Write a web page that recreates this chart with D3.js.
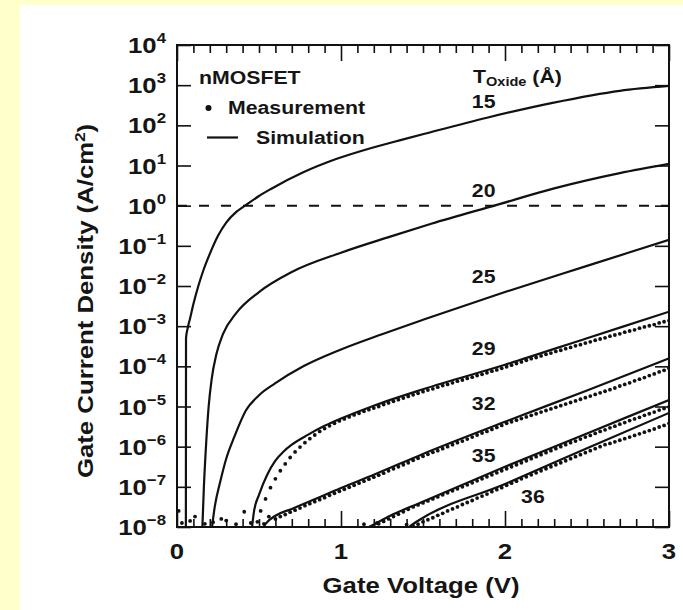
<!DOCTYPE html>
<html>
<head>
<meta charset="utf-8">
<script src="https://cdn.jsdelivr.net/npm/d3@7"></script>
<style>
  html, body { margin: 0; padding: 0; background: #ffffcc; }
  svg { display: block; }
  text { font-family: "Liberation Sans", Arial, Helvetica, sans-serif; font-weight: bold; fill: #151515; }
</style>
</head>
<body>
<svg id="chart" width="683" height="610"></svg>
<script>
// Gate current density of nMOSFETs vs gate voltage for several oxide thicknesses.
// Current densities are stored as log10(J / (A/cm^2)).

const xTickValues = [0, 1, 2, 3];
const xTickLabels = ["0", "1", "2", "3"];
const yTickExponents = [-8, -7, -6, -5, -4, -3, -2, -1, 0, 1, 2, 3, 4];

// Simulation curves: [gate voltage (V), log10 J]
const sim15 = [[0.054,-8.3],[0.055,-3.3],[0.065,-3.05],[0.08,-2.8],[0.1,-2.45],[0.13,-2.0],[0.16,-1.62],[0.2,-1.2],[0.25,-0.75],[0.3,-0.42],[0.36,-0.16],[0.415,0.0],[0.5,0.24],[0.57,0.41],[0.77,0.83],[0.97,1.16],[1.18,1.43],[1.38,1.65],[1.51,1.79],[1.89,2.19],[2.29,2.56],[2.7,2.86],[3.0,2.98]];
const sim20 = [[0.152,-8.3],[0.164,-7.0],[0.178,-5.9],[0.193,-5.0],[0.212,-4.3],[0.24,-3.7],[0.28,-3.2],[0.36,-2.68],[0.5,-2.15],[0.7,-1.65],[1.0,-1.17],[1.3,-0.77],[1.55,-0.45],[1.95,0.02],[2.3,0.43],[2.7,0.81],[3.0,1.04]];
const sim25 = [[0.205,-8.3],[0.23,-7.5],[0.265,-6.85],[0.3,-6.3],[0.35,-5.75],[0.42,-5.1],[0.5,-4.72],[0.6,-4.42],[0.77,-4.0],[1.0,-3.58],[1.25,-3.2],[1.5,-2.84],[2.0,-2.15],[2.5,-1.5],[3.0,-0.85]];
const sim29 = [[0.45,-8.3],[0.47,-7.6],[0.5,-7.2],[0.55,-6.7],[0.6,-6.35],[0.65,-6.12],[0.7,-5.95],[0.8,-5.7],[0.9,-5.48],[1.0,-5.3],[1.2,-4.98],[1.5,-4.57],[2.0,-3.96],[2.5,-3.3],[3.0,-2.64]];
const sim32 = [[0.5,-8.2],[0.54,-7.92],[0.6,-7.72],[0.7,-7.55],[0.8,-7.38],[1.0,-7.03],[1.2,-6.7],[1.5,-6.18],[2.0,-5.38],[2.5,-4.6],[3.0,-3.8]];
const sim35 = [[1.12,-8.1],[1.17,-8.0],[1.3,-7.72],[1.48,-7.4],[2.0,-6.5],[2.5,-5.67],[3.0,-4.84]];
const sim36 = [[1.38,-8.1],[1.46,-7.87],[2.0,-6.93],[2.5,-6.04],[3.0,-5.16]];

// Measurements: equally spaced voltage sweep (step in V), log10 J per point
const measStep = 0.03;
const meas29Start = 0.51;
const meas29 = [
  -7.60,-7.30,-7.02,-6.80,-6.60,-6.43,-6.27,-6.13,-6.01,-5.90,
  -5.80,-5.71,-5.62,-5.55,-5.48,-5.42,-5.36,-5.31,-5.26,-5.21,
  -5.17,-5.12,-5.08,-5.04,-5.00,-4.95,-4.91,-4.87,-4.83,-4.79,
  -4.75,-4.71,-4.67,-4.63,-4.59,-4.56,-4.52,-4.48,-4.45,-4.41,
  -4.37,-4.34,-4.30,-4.27,-4.23,-4.20,-4.16,-4.12,-4.09,-4.05,
  -4.01,-3.97,-3.93,-3.89,-3.85,-3.81,-3.78,-3.74,-3.70,-3.67,
  -3.63,-3.60,-3.56,-3.53,-3.49,-3.46,-3.42,-3.39,-3.35,-3.32,
  -3.29,-3.25,-3.22,-3.19,-3.15,-3.12,-3.09,-3.05,-3.02,-2.99,
  -2.96,-2.92,-2.89,-2.86];
const meas32Start = 0.60;
const meas32 = [
  -7.80,-7.74,-7.69,-7.63,-7.58,-7.53,-7.47,-7.42,-7.37,-7.32,
  -7.27,-7.21,-7.16,-7.11,-7.06,-7.01,-6.96,-6.91,-6.86,-6.81,
  -6.76,-6.71,-6.66,-6.60,-6.55,-6.50,-6.45,-6.40,-6.34,-6.29,
  -6.24,-6.19,-6.14,-6.10,-6.05,-6.00,-5.95,-5.90,-5.86,-5.81,
  -5.76,-5.71,-5.66,-5.62,-5.57,-5.52,-5.47,-5.42,-5.38,-5.34,
  -5.30,-5.26,-5.22,-5.18,-5.14,-5.10,-5.06,-5.02,-4.98,-4.94,
  -4.90,-4.86,-4.82,-4.78,-4.74,-4.70,-4.66,-4.62,-4.58,-4.54,
  -4.49,-4.45,-4.41,-4.36,-4.32,-4.28,-4.23,-4.19,-4.14,-4.10,
  -4.05];
const meas35Start = 1.20;
const meas35 = [
  -7.98,-7.92,-7.86,-7.80,-7.74,-7.68,-7.62,-7.56,-7.50,-7.45,
  -7.40,-7.35,-7.30,-7.25,-7.20,-7.15,-7.10,-7.05,-7.00,-6.95,
  -6.90,-6.85,-6.80,-6.75,-6.70,-6.65,-6.60,-6.55,-6.50,-6.45,
  -6.40,-6.35,-6.30,-6.25,-6.20,-6.15,-6.10,-6.05,-6.00,-5.95,
  -5.90,-5.86,-5.81,-5.76,-5.72,-5.67,-5.62,-5.58,-5.53,-5.49,
  -5.44,-5.40,-5.35,-5.31,-5.27,-5.22,-5.18,-5.14,-5.09,-5.05,
  -5.01];
const meas36Start = 1.44;
const meas36 = [
  -7.98,-7.93,-7.87,-7.82,-7.77,-7.71,-7.66,-7.60,-7.55,-7.50,
  -7.44,-7.39,-7.34,-7.28,-7.23,-7.18,-7.12,-7.07,-7.02,-6.96,
  -6.91,-6.86,-6.80,-6.75,-6.70,-6.65,-6.60,-6.55,-6.50,-6.45,
  -6.40,-6.35,-6.30,-6.25,-6.20,-6.15,-6.10,-6.05,-6.00,-5.95,
  -5.92,-5.88,-5.84,-5.80,-5.76,-5.72,-5.68,-5.64,-5.60,-5.56,
  -5.51,-5.47,-5.42];
// Scattered points near the instrument floor
const floorVolt = [0.01,0.03,0.08,0.11,0.17,0.22,0.27,0.30,0.36,0.41,0.45,0.49,0.53,0.56,1.14,1.22,1.40];
const floorLog  = [-7.60,-7.90,-7.85,-7.74,-7.92,-7.88,-7.80,-7.84,-7.93,-7.62,-7.90,-7.87,-7.92,-7.74,-7.93,-7.90,-7.94];

// Oxide thickness annotations
const oxideLabels = ["15", "20", "25", "29", "32", "35", "36"];
const oxideLabelVolt = [1.87, 1.87, 1.87, 1.87, 1.87, 1.87, 2.17];
const oxideLabelLog = [2.43, 0.22, -1.93, -3.72, -5.09, -6.38, -7.40];

// ---------------------------------------------------------------
const W = 683, H = 610;
const plot = { left: 177, right: 669, top: 45, bottom: 527 };
const SX = 1.12;   // glyph width factor for the lettering

const svg = d3.select("#chart");
svg.append("rect").attr("x", 20).attr("y", 5).attr("width", W - 20).attr("height", H - 5).attr("fill", "#ffffff");

const x = d3.scaleLinear().domain([0, 3]).range([plot.left, plot.right]);
const y = d3.scaleLog().domain([1e-8, 1e4]).range([plot.bottom, plot.top]);

svg.append("clipPath").attr("id", "plotClip").append("rect")
  .attr("x", plot.left).attr("y", plot.top)
  .attr("width", plot.right - plot.left).attr("height", plot.bottom - plot.top);

const g = svg.append("g");
const inner = g.append("g").attr("clip-path", "url(#plotClip)");

// 1 A/cm^2 reference line
inner.append("line")
  .attr("x1", plot.left).attr("x2", plot.right)
  .attr("y1", y(1)).attr("y2", y(1))
  .attr("stroke", "#111").attr("stroke-width", 2).attr("stroke-dasharray", "10,12");

const line = d3.line()
  .x(d => x(d[0]))
  .y(d => y(Math.pow(10, d[1])))
  .curve(d3.curveMonotoneX);

[sim15, sim20, sim25, sim29, sim32, sim35, sim36].forEach(s => {
  inner.append("path").attr("d", line(s))
    .attr("fill", "none").attr("stroke", "#111").attr("stroke-width", 2.2)
    .attr("stroke-linejoin", "round");
});

const measSeries = [[meas29Start, meas29], [meas32Start, meas32], [meas35Start, meas35], [meas36Start, meas36]];
measSeries.forEach(([v0, vals]) => {
  inner.append("g").selectAll("circle").data(vals).join("circle")
    .attr("cx", (d, i) => x(v0 + i * measStep))
    .attr("cy", d => y(Math.pow(10, d)))
    .attr("r", 1.9).attr("fill", "#111");
});
inner.append("g").selectAll("circle").data(floorVolt).join("circle")
  .attr("cx", d => x(d))
  .attr("cy", (d, i) => y(Math.pow(10, floorLog[i])))
  .attr("r", 1.9).attr("fill", "#111");

// frame
g.append("rect")
  .attr("x", plot.left).attr("y", plot.top)
  .attr("width", plot.right - plot.left).attr("height", plot.bottom - plot.top)
  .attr("fill", "none").attr("stroke", "#111").attr("stroke-width", 2);

// ticks (inward on all four sides)
function tickAxis(axis, tx, ty) {
  const a = g.append("g").attr("transform", `translate(${tx},${ty})`).call(axis);
  a.select(".domain").remove();
  a.selectAll("line").attr("stroke", "#111").attr("stroke-width", 1.6);
  a.selectAll("text").remove();
  return a;
}
const minorX = d3.range(1, 30).filter(i => i % 10 !== 0).map(i => i / 10);
tickAxis(d3.axisBottom(x).tickValues(xTickValues).tickSize(-16), 0, plot.bottom);
tickAxis(d3.axisTop(x).tickValues(xTickValues).tickSize(-16), 0, plot.top);
tickAxis(d3.axisBottom(x).tickValues(minorX).tickSize(-8), 0, plot.bottom);
tickAxis(d3.axisTop(x).tickValues(minorX).tickSize(-8), 0, plot.top);
const yTickVals = yTickExponents.map(e => Math.pow(10, e));
tickAxis(d3.axisLeft(y).tickValues(yTickVals).tickSize(-14), plot.left, 0);
tickAxis(d3.axisRight(y).tickValues(yTickVals).tickSize(-14), plot.right, 0);

function addText(parent, tx, ty, str, size, anchor) {
  return parent.append("text")
    .attr("transform", `translate(${tx},${ty}) scale(${SX},1)`)
    .attr("text-anchor", anchor || "start")
    .style("font-size", size + "px")
    .text(str);
}

// x tick labels
xTickValues.forEach((v, i) => addText(g, x(v), 559, xTickLabels[i], 23, "middle"));

// y tick labels: 10 with superscript exponent
yTickExponents.forEach(e => {
  const t = g.append("text")
    .attr("transform", `translate(166,${y(Math.pow(10, e)) + 8}) scale(${SX},1)`)
    .attr("text-anchor", "end")
    .style("font-size", "23px");
  t.append("tspan").text("10");
  t.append("tspan").attr("dy", -10).style("font-size", "15px")
    .text(e < 0 ? "\u2212" + (-e) : String(e));
});

// axis titles
addText(g, 421, 593, "Gate Voltage (V)", 23, "middle");
const yt = g.append("text")
  .attr("transform", `translate(93,301) rotate(-90) scale(${SX},1)`)
  .attr("text-anchor", "middle")
  .style("font-size", "23px");
yt.append("tspan").text("Gate Current Density (A/cm");
yt.append("tspan").attr("dy", -8).style("font-size", "15px").text("2");
yt.append("tspan").attr("dy", 8).text(")");

// legend
addText(g, 199, 84, "nMOSFET", 19);
g.append("circle").attr("cx", 208.5).attr("cy", 108).attr("r", 3).attr("fill", "#111");
addText(g, 228, 114, "Measurement", 19);
g.append("line").attr("x1", 207).attr("x2", 238).attr("y1", 137.5).attr("y2", 137.5)
  .attr("stroke", "#111").attr("stroke-width", 2.2);
addText(g, 256, 144, "Simulation", 19);

// thickness header and labels
const th = g.append("text")
  .attr("transform", `translate(473,83) scale(${SX},1)`)
  .style("font-size", "19px");
th.append("tspan").text("T");
th.append("tspan").attr("dy", 3).style("font-size", "13px").text("Oxide");
th.append("tspan").attr("dy", -3).text(" (\u00C5)");

oxideLabels.forEach((lab, i) => {
  addText(g, x(oxideLabelVolt[i]), y(Math.pow(10, oxideLabelLog[i])), lab, 19, "middle");
});
</script>
</body>
</html>
